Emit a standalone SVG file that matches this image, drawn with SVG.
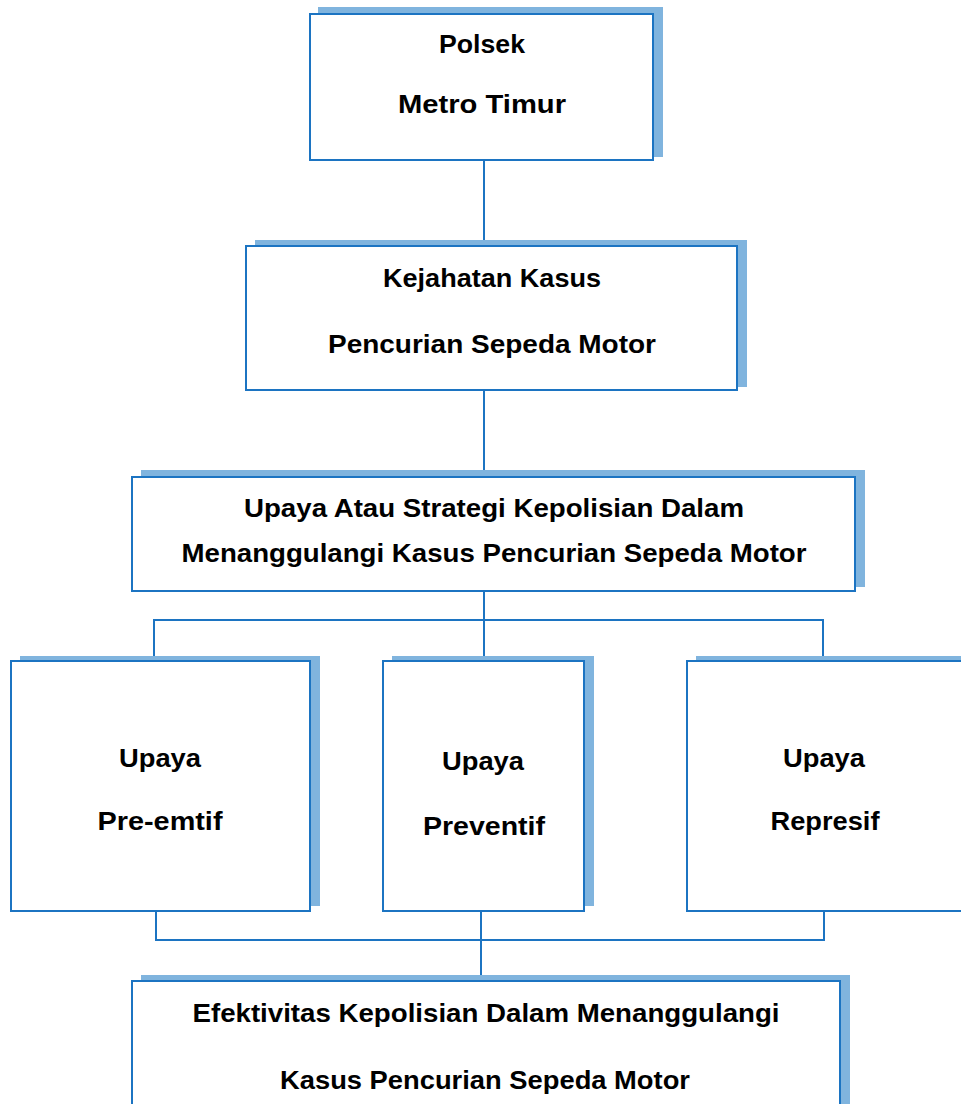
<svg xmlns="http://www.w3.org/2000/svg" width="961" height="1104" viewBox="0 0 961 1104">
<style>
.shadow{fill:#80b4de;stroke:none}
.box{fill:#ffffff;stroke:#1c74c2;stroke-width:2}
.conn{fill:none;stroke:#1c74c2;stroke-width:2}
text{font-family:"Liberation Sans",Arial,sans-serif;font-weight:bold;font-size:25px;fill:#000;text-anchor:middle}
</style>
<rect width="961" height="1104" fill="#ffffff"/>
<g id="connectors">
<path class="conn" d="M484 161V246"/>
<path class="conn" d="M484 390V477"/>
<path class="conn" d="M484 591V620M154 661V620H823V661M484 620V661"/>
<path class="conn" d="M156 911V940H824V911M481 911V981"/>
</g>
<g id="n1">
<rect class="shadow" x="318" y="7" width="345" height="150"/>
<rect class="box" x="310" y="14" width="343" height="146"/>
<text x="482" y="53" textLength="86" lengthAdjust="spacingAndGlyphs">Polsek</text>
<text x="482" y="113" textLength="168" lengthAdjust="spacingAndGlyphs">Metro Timur</text>
</g>
<g id="n2">
<rect class="shadow" x="255" y="240" width="492" height="147"/>
<rect class="box" x="246" y="246" width="491" height="144"/>
<text x="492" y="287" textLength="218" lengthAdjust="spacingAndGlyphs">Kejahatan Kasus</text>
<text x="492" y="353" textLength="328" lengthAdjust="spacingAndGlyphs">Pencurian Sepeda Motor</text>
</g>
<g id="n3">
<rect class="shadow" x="141" y="470" width="724" height="117"/>
<rect class="box" x="132" y="477" width="723" height="114"/>
<text x="494" y="517" textLength="500" lengthAdjust="spacingAndGlyphs">Upaya Atau Strategi Kepolisian Dalam</text>
<text x="494" y="562" textLength="625" lengthAdjust="spacingAndGlyphs">Menanggulangi Kasus Pencurian Sepeda Motor</text>
</g>
<g id="n4">
<rect class="shadow" x="20" y="656" width="300" height="250"/>
<rect class="box" x="11" y="661" width="299" height="250"/>
<text x="160" y="767" textLength="82" lengthAdjust="spacingAndGlyphs">Upaya</text>
<text x="160" y="830" textLength="125" lengthAdjust="spacingAndGlyphs">Pre-emtif</text>
</g>
<g id="n5">
<rect class="shadow" x="392" y="656" width="202" height="250"/>
<rect class="box" x="383" y="661" width="201" height="250"/>
<text x="483" y="770" textLength="82" lengthAdjust="spacingAndGlyphs">Upaya</text>
<text x="484" y="835" textLength="122" lengthAdjust="spacingAndGlyphs">Preventif</text>
</g>
<g id="n6">
<rect class="shadow" x="696" y="656" width="280" height="250"/>
<rect class="box" x="687" y="661" width="285" height="250"/>
<text x="824" y="767" textLength="82" lengthAdjust="spacingAndGlyphs">Upaya</text>
<text x="825" y="830" textLength="109" lengthAdjust="spacingAndGlyphs">Represif</text>
</g>
<g id="n7">
<rect class="shadow" x="141" y="975" width="709" height="140"/>
<rect class="box" x="132" y="981" width="708" height="140"/>
<text x="486" y="1022" textLength="587" lengthAdjust="spacingAndGlyphs">Efektivitas Kepolisian Dalam Menanggulangi</text>
<text x="485" y="1089" textLength="410" lengthAdjust="spacingAndGlyphs">Kasus Pencurian Sepeda Motor</text>
</g>
</svg>
